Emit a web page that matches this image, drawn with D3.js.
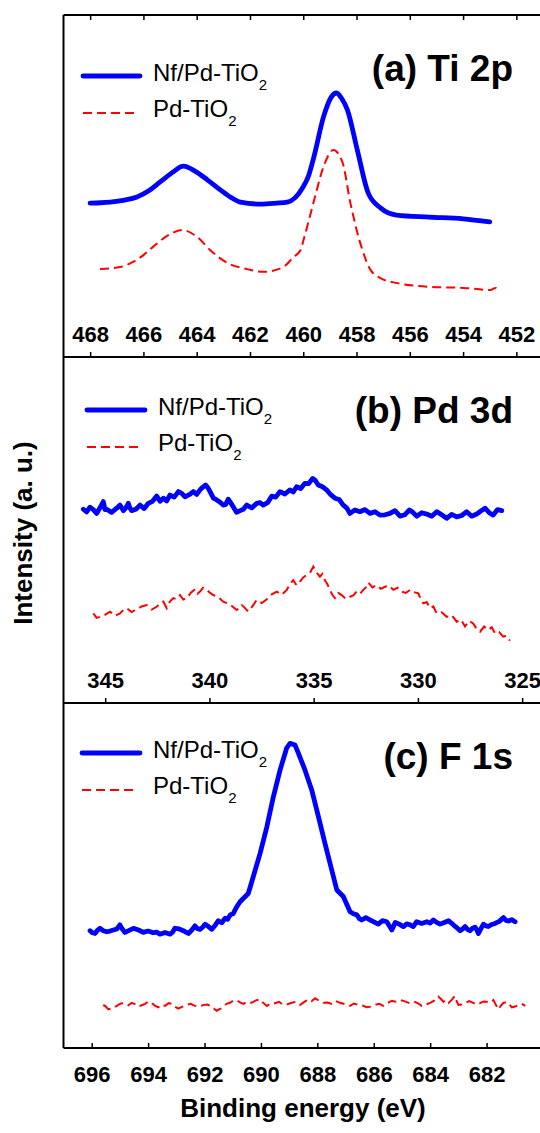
<!DOCTYPE html>
<html lang="en">
<head>
<meta charset="utf-8" />
<title>XPS spectra</title>
<script src="https://cdn.jsdelivr.net/npm/d3@7"></script>
<style>
  body { margin: 0; background: #fff; }
  svg { display: block; font-family: Arial, "Liberation Sans", sans-serif; }
  .frame { stroke: #000; stroke-width: 2px; fill: none; }
  .tick line { stroke: #000; stroke-width: 1.5px; }
  .tick-lbl { font-size: 22px; font-weight: bold; fill: #000; }
  .nf-line { fill: none; stroke: #0000ff; stroke-width: 4.8px; stroke-linejoin: round; stroke-linecap: round; }
  .pd-line { fill: none; stroke: #ff0000; stroke-width: 2px; stroke-dasharray: 9, 5; }
  .legend-text { font-size: 24px; fill: #000; }
  .panel-title { font-size: 37px; font-weight: bold; fill: #000; }
  .axis-title { font-size: 26px; font-weight: bold; fill: #000; }
</style>
</head>
<body>
<script>
// tick labels
var tiTicks = [468, 466, 464, 462, 460, 458, 456, 454, 452];
var pdTicks = [345, 340, 335, 330, 325];
var fTicks = [696, 694, 692, 690, 688, 686, 684, 682];

// (a) Ti 2p  [binding energy, intensity a.u.]
var tiNf = [
  [468.0, 45.0], [467.6, 45.1], [467.25, 45.3], [466.7, 45.9], [466.24, 46.8],
  [465.8, 48.6], [465.37, 51.2], [464.9, 54.0], [464.5, 55.8], [464.05, 54.3],
  [463.6, 51.8], [463.1, 48.8], [462.7, 46.6], [462.36, 45.3], [461.6, 44.7],
  [461.0, 45.0], [460.6, 45.3], [460.3, 46.6], [460.03, 49.4], [459.8, 53.0],
  [459.6, 58.5], [459.24, 70.2], [458.95, 76.0], [458.75, 77.2], [458.55, 75.5],
  [458.34, 72.2], [457.97, 60.5], [457.56, 47.9], [457.1, 43.6], [456.5, 41.5],
  [455.26, 40.9], [454.0, 40.4], [453.0, 39.5]
];
var tiPd = [
  [467.63, 25.7], [466.88, 26.3], [466.39, 27.8], [466.0, 29.8], [465.64, 32.2],
  [465.11, 35.4], [464.55, 37.1], [463.98, 35.1], [463.5, 31.3], [462.85, 27.5],
  [462.1, 25.7], [461.5, 24.9], [460.75, 26.3], [460.37, 29.2], [460.1, 31.3],
  [459.99, 34.2], [459.62, 45.0], [459.24, 55.6], [458.87, 60.5], [458.53, 57.0],
  [458.23, 45.0], [457.78, 31.3], [457.47, 25.4], [457.03, 22.8], [456.46, 21.6],
  [455.22, 20.5], [453.98, 20.2], [452.97, 19.6], [452.78, 20.2], [452.67, 19.0]
];

// (b) Pd 3d
var pdNf = [
  [346.05, 56.0], [345.89, 55.2], [345.73, 56.6], [345.57, 55.9], [345.41, 54.8],
  [345.25, 56.4], [345.09, 58.2], [345.01, 55.9], [344.93, 56.0], [344.69, 55.1],
  [344.45, 56.3], [344.29, 57.2], [344.13, 55.6], [344.01, 56.4], [343.89, 57.7],
  [343.81, 56.3], [343.73, 55.6], [343.53, 56.0], [343.33, 57.2], [343.13, 56.2],
  [342.93, 57.7], [342.73, 58.3], [342.53, 59.8], [342.37, 58.3], [342.21, 59.2],
  [342.05, 58.4], [341.89, 60.1], [341.69, 59.5], [341.49, 61.1], [341.33, 60.6],
  [341.17, 59.6], [340.97, 60.2], [340.77, 61.1], [340.61, 60.3], [340.45, 61.6],
  [340.31, 62.4], [340.18, 63.0], [340.07, 62.2], [339.97, 61.1], [339.81, 59.2],
  [339.65, 58.7], [339.5, 58.1], [339.34, 57.2], [339.22, 57.4], [339.1, 58.9],
  [338.98, 57.9], [338.86, 56.7], [338.7, 55.1], [338.53, 55.6], [338.37, 56.0],
  [338.21, 57.2], [337.97, 56.4], [337.73, 57.7], [337.57, 57.9], [337.42, 57.2],
  [337.21, 57.9], [337.01, 59.8], [336.82, 59.5], [336.62, 61.1], [336.38, 60.4],
  [336.14, 61.6], [335.98, 61.0], [335.82, 62.5], [335.62, 62.0], [335.42, 63.5],
  [335.24, 63.4], [335.05, 64.9], [334.92, 64.3], [334.78, 63.0], [334.58, 62.5],
  [334.38, 61.6], [334.18, 60.2], [333.98, 59.2], [333.78, 58.8], [333.58, 57.2],
  [333.42, 56.4], [333.26, 54.8], [333.02, 55.8], [332.78, 55.3], [332.54, 55.9],
  [332.3, 54.8], [332.06, 55.3], [331.82, 54.3], [331.58, 54.4], [331.34, 54.8],
  [331.1, 55.6], [330.86, 54.0], [330.63, 54.4], [330.41, 55.8], [330.24, 55.1],
  [330.06, 54.0], [329.82, 55.0], [329.58, 54.6], [329.34, 54.0], [329.1, 55.3],
  [328.86, 54.4], [328.62, 53.4], [328.38, 54.5], [328.14, 53.8], [327.9, 54.2],
  [327.66, 55.3], [327.42, 54.0], [327.18, 54.6], [326.98, 55.5], [326.78, 56.3],
  [326.58, 55.0], [326.39, 54.3], [326.18, 55.9], [325.98, 55.6]
];
var pdPd = [
  [345.57, 25.9], [345.41, 24.6], [345.25, 24.9], [345.01, 25.5], [344.77, 26.4],
  [344.53, 25.2], [344.29, 25.9], [344.13, 26.9], [343.97, 27.4], [343.73, 26.3],
  [343.49, 27.1], [343.25, 27.9], [343.01, 28.3], [342.77, 27.0], [342.53, 27.8],
  [342.37, 28.9], [342.21, 29.3], [342.13, 28.4], [342.05, 27.4], [341.89, 29.4],
  [341.73, 30.3], [341.57, 30.0], [341.41, 31.2], [341.25, 29.9], [341.09, 30.3],
  [340.89, 31.9], [340.69, 32.9], [340.57, 31.6], [340.45, 32.2], [340.31, 33.3],
  [340.18, 32.9], [340.0, 32.0], [339.82, 31.2], [339.58, 30.6], [339.34, 29.3],
  [339.02, 28.5], [338.69, 26.9], [338.57, 27.5], [338.45, 28.3], [338.3, 27.5],
  [338.14, 26.4], [337.93, 28.0], [337.73, 29.8], [337.49, 28.9], [337.25, 30.0],
  [337.01, 31.4], [336.77, 32.2], [336.53, 31.3], [336.29, 32.7], [336.13, 34.4],
  [335.98, 35.5], [335.82, 34.0], [335.66, 35.1], [335.5, 36.3], [335.34, 37.0],
  [335.18, 37.6], [335.02, 39.4], [334.86, 37.7], [334.7, 36.5], [334.58, 37.3],
  [334.46, 35.5], [334.34, 34.3], [334.22, 32.7], [334.1, 31.2], [333.98, 30.3],
  [333.82, 31.8], [333.66, 31.2], [333.46, 30.1], [333.26, 30.7], [333.1, 31.1],
  [332.94, 32.2], [332.78, 31.5], [332.62, 32.7], [332.5, 33.4], [332.38, 34.8],
  [332.18, 33.4], [331.98, 34.1], [331.78, 33.0], [331.58, 33.6], [331.38, 33.9],
  [331.18, 32.7], [330.98, 33.3], [330.78, 32.2], [330.58, 31.8], [330.38, 32.7],
  [330.18, 32.0], [329.98, 31.7], [329.86, 30.0], [329.74, 28.8], [329.58, 29.2],
  [329.42, 27.4], [329.26, 27.9], [329.1, 25.9], [328.86, 26.2], [328.62, 24.9],
  [328.38, 25.4], [328.14, 23.5], [327.94, 24.1], [327.74, 22.1], [327.55, 23.7],
  [327.35, 23.0], [327.18, 21.4], [327.02, 20.6], [326.82, 22.1], [326.63, 21.1],
  [326.46, 21.9], [326.3, 20.1], [326.1, 20.5], [325.91, 19.2], [325.75, 19.4],
  [325.59, 18.0]
];

// (c) F 1s
var fNf = [
  [696.06, 34.0], [695.97, 33.4], [695.88, 33.2], [695.8, 34.1], [695.71, 34.7],
  [695.59, 34.0], [695.47, 33.7], [695.35, 33.9], [695.23, 34.2], [695.11, 34.5],
  [695.0, 35.7], [694.91, 34.4], [694.82, 33.5], [694.67, 34.1], [694.52, 34.7],
  [694.34, 34.2], [694.17, 33.5], [694.0, 33.9], [693.82, 33.4], [693.7, 33.6],
  [693.58, 33.0], [693.4, 33.5], [693.22, 33.0], [693.13, 33.6], [693.05, 34.7],
  [692.9, 34.5], [692.75, 34.0], [692.66, 33.6], [692.57, 33.2], [692.45, 34.2],
  [692.34, 35.4], [692.25, 34.6], [692.16, 34.4], [692.07, 35.0], [691.98, 35.9],
  [691.86, 35.2], [691.74, 34.4], [691.62, 35.6], [691.51, 36.9], [691.39, 36.3],
  [691.27, 37.6], [691.18, 37.3], [691.09, 38.6], [690.98, 39.0], [690.86, 40.9],
  [690.74, 42.4], [690.45, 44.8], [690.27, 49.7], [690.03, 56.4], [689.79, 64.1],
  [689.56, 72.8], [689.32, 80.6], [689.09, 86.9], [688.97, 88.3], [688.79, 87.8],
  [688.67, 85.4], [688.44, 80.6], [688.2, 74.8], [687.96, 67.0], [687.73, 59.3],
  [687.49, 51.6], [687.31, 45.8], [687.08, 43.9], [686.84, 39.5], [686.72, 38.9],
  [686.6, 38.6], [686.51, 37.5], [686.43, 37.1], [686.28, 37.8], [686.13, 37.1],
  [685.98, 36.5], [685.84, 35.9], [685.69, 36.9], [685.54, 36.6], [685.45, 35.4],
  [685.36, 34.2], [685.3, 35.2], [685.24, 36.4], [685.1, 35.9], [684.95, 35.2],
  [684.83, 36.0], [684.71, 35.7], [684.6, 35.2], [684.48, 36.6], [684.3, 36.1],
  [684.12, 36.6], [684.0, 36.2], [683.89, 37.1], [683.77, 36.4], [683.65, 35.9],
  [683.5, 36.4], [683.35, 36.9], [683.26, 36.3], [683.18, 35.7], [683.06, 34.9],
  [682.94, 34.0], [682.85, 34.5], [682.76, 35.2], [682.68, 34.4], [682.59, 34.0],
  [682.5, 34.7], [682.41, 35.0], [682.35, 34.3], [682.29, 33.2], [682.2, 34.6],
  [682.11, 35.9], [682.02, 35.4], [681.94, 35.2], [681.82, 35.8], [681.7, 36.1],
  [681.55, 36.7], [681.4, 37.8], [681.31, 37.0], [681.23, 36.8], [681.11, 37.2],
  [680.99, 36.6]
];
var fPd = [
  [695.59, 12.5], [695.5, 12.0], [695.41, 11.2], [695.26, 11.5], [695.11, 12.2],
  [694.97, 12.9], [694.82, 13.0], [694.7, 12.4], [694.58, 13.1], [694.47, 12.7],
  [694.35, 12.0], [694.23, 12.4], [694.11, 12.8], [693.99, 13.5], [693.87, 13.0],
  [693.76, 12.3], [693.64, 11.8], [693.52, 12.6], [693.4, 12.2], [693.28, 13.0],
  [693.16, 12.8], [693.05, 12.0], [692.93, 11.4], [692.78, 12.0], [692.63, 12.5],
  [692.49, 12.8], [692.34, 12.2], [692.19, 12.0], [692.04, 12.5], [691.89, 12.6],
  [691.74, 12.0], [691.66, 11.4], [691.57, 10.8], [691.45, 11.3], [691.33, 12.0],
  [691.22, 12.8], [691.1, 13.1], [690.98, 13.7], [690.86, 13.9], [690.74, 13.2],
  [690.62, 12.8], [690.48, 13.4], [690.33, 13.1], [690.18, 13.8], [690.03, 14.1],
  [689.91, 13.0], [689.79, 12.2], [689.65, 12.9], [689.5, 13.0], [689.36, 13.4],
  [689.21, 12.5], [689.06, 12.7], [688.91, 13.1], [688.76, 13.4], [688.61, 12.5],
  [688.47, 13.3], [688.32, 14.1], [688.2, 13.6], [688.08, 14.4], [687.94, 13.7],
  [687.79, 13.1], [687.64, 13.2], [687.49, 12.8], [687.35, 13.6], [687.2, 13.1],
  [687.02, 12.7], [686.84, 12.2], [686.7, 12.9], [686.55, 12.5], [686.4, 12.3],
  [686.25, 11.8], [686.1, 12.0], [685.95, 12.5], [685.8, 12.8], [685.66, 12.2],
  [685.51, 13.0], [685.36, 13.7], [685.22, 13.4], [685.07, 13.9], [684.92, 13.6],
  [684.77, 13.1], [684.66, 13.0], [684.54, 13.4], [684.42, 12.9], [684.3, 12.2],
  [684.15, 12.6], [684.0, 13.1], [683.86, 13.7], [683.71, 14.9], [683.62, 14.2],
  [683.53, 13.4], [683.44, 13.8], [683.35, 13.0], [683.23, 14.0], [683.12, 15.1],
  [683.06, 13.6], [683.0, 12.5], [682.88, 12.6], [682.76, 13.0], [682.62, 13.6],
  [682.47, 13.1], [682.35, 12.6], [682.23, 13.0], [682.11, 13.5], [681.99, 13.4],
  [681.87, 13.2], [681.76, 13.9], [681.67, 12.5], [681.58, 11.2], [681.49, 12.3],
  [681.4, 13.1], [681.25, 13.3], [681.11, 11.8], [680.99, 12.0], [680.87, 12.5],
  [680.75, 12.8], [680.63, 12.2]
];

var w = 540;
var h = 1133;
var plotLeft = 63.5;
var plotRight = 543;

var panels = [
  { top: 15, bottom: 357, domain: [469, 451], ticks: tiTicks, nf: tiNf, pd: tiPd,
    title: "(a) Ti 2p", smooth: true, topTicks: true, labelsBelow: false,
    leg: { x1: 83, x2: 140, y: 76, tx: 153 } },
  { top: 357, bottom: 703, domain: [347, 324], ticks: pdTicks, nf: pdNf, pd: pdPd,
    title: "(b) Pd 3d", smooth: false, topTicks: false, labelsBelow: false,
    leg: { x1: 87, x2: 145, y: 410, tx: 158 } },
  { top: 703, bottom: 1048, domain: [697, 680], ticks: fTicks, nf: fNf, pd: fPd,
    title: "(c) F 1s", smooth: false, topTicks: false, labelsBelow: true,
    leg: { x1: 82, x2: 140, y: 753, tx: 153 } }
];

var svg = d3.select("body").append("svg")
  .attr("width", w)
  .attr("height", h);

svg.append("rect")
  .attr("width", w)
  .attr("height", h)
  .attr("fill", "#fff");

panels.forEach(function(p) {
  var xScale = d3.scaleLinear().domain(p.domain).range([plotLeft, plotRight]);
  var yScale = d3.scaleLinear().domain([0, 100]).range([p.bottom, p.top]);

  // inward ticks on the bottom edge of the panel
  var bottomAxis;
  if (p.labelsBelow) {
    bottomAxis = d3.axisBottom(xScale).tickValues(p.ticks).tickSize(-5).tickPadding(18).tickSizeOuter(0);
  } else {
    bottomAxis = d3.axisTop(xScale).tickValues(p.ticks).tickSize(5).tickPadding(10).tickSizeOuter(0);
  }
  var gx = svg.append("g")
    .attr("transform", "translate(0," + p.bottom + ")")
    .call(bottomAxis);
  gx.select(".domain").remove();
  gx.selectAll("text").attr("class", "tick-lbl");

  if (p.topTicks) {
    var gt = svg.append("g")
      .attr("transform", "translate(0," + p.top + ")")
      .call(d3.axisBottom(xScale).tickValues(p.ticks).tickSize(5).tickFormat("").tickSizeOuter(0));
    gt.select(".domain").remove();
  }

  // horizontal frame lines
  svg.append("line").attr("class", "frame")
    .attr("x1", plotLeft).attr("x2", plotRight)
    .attr("y1", p.top).attr("y2", p.top);
  svg.append("line").attr("class", "frame")
    .attr("x1", plotLeft).attr("x2", plotRight)
    .attr("y1", p.bottom).attr("y2", p.bottom);

  var line = d3.line()
    .x(function(d) { return xScale(d[0]); })
    .y(function(d) { return yScale(d[1]); })
    .curve(p.smooth ? d3.curveMonotoneX : d3.curveLinear);

  svg.append("path").datum(p.pd).attr("class", "pd-line").attr("d", line);
  svg.append("path").datum(p.nf).attr("class", "nf-line").attr("d", line);

  // legend
  svg.append("line").attr("class", "nf-line")
    .attr("x1", p.leg.x1).attr("x2", p.leg.x2)
    .attr("y1", p.leg.y).attr("y2", p.leg.y);
  svg.append("line").attr("class", "pd-line")
    .attr("x1", p.leg.x1).attr("x2", p.leg.x2 - 5)
    .attr("y1", p.leg.y + 37).attr("y2", p.leg.y + 37);

  var t1 = svg.append("text").attr("class", "legend-text")
    .attr("x", p.leg.tx).attr("y", p.leg.y + 5);
  t1.append("tspan").text("Nf/Pd-TiO");
  t1.append("tspan").attr("dy", 9).style("font-size", "15px").text("2");

  var t2 = svg.append("text").attr("class", "legend-text")
    .attr("x", p.leg.tx).attr("y", p.leg.y + 41);
  t2.append("tspan").text("Pd-TiO");
  t2.append("tspan").attr("dy", 9).style("font-size", "15px").text("2");

  svg.append("text").attr("class", "panel-title")
    .attr("x", 513).attr("y", p.top + 66)
    .attr("text-anchor", "end")
    .text(p.title);
});

// left frame line
svg.append("line").attr("class", "frame")
  .attr("x1", plotLeft).attr("x2", plotLeft)
  .attr("y1", panels[0].top).attr("y2", panels[2].bottom);

svg.append("text").attr("class", "axis-title")
  .attr("transform", "translate(32,533) rotate(-90)")
  .attr("text-anchor", "middle")
  .text("Intensity (a. u.)");

svg.append("text").attr("class", "axis-title")
  .attr("x", 303).attr("y", 1117)
  .attr("text-anchor", "middle")
  .text("Binding energy (eV)");
</script>
</body>
</html>
